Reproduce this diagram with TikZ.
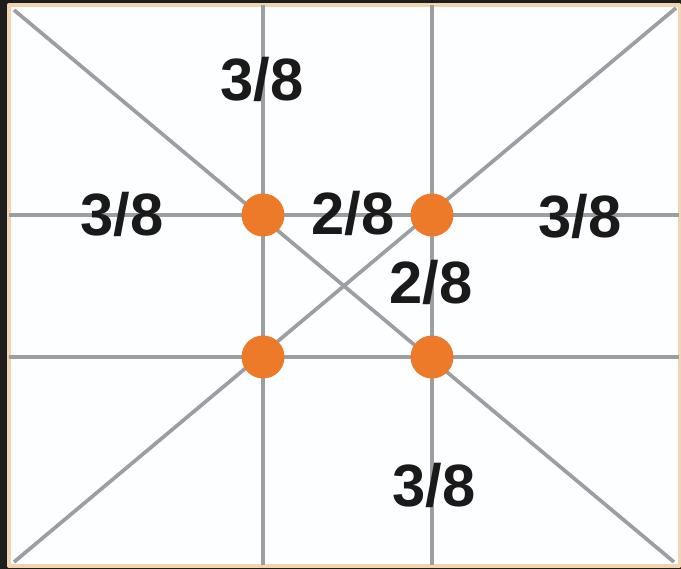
\documentclass[tikz,border=0pt]{standalone}
\usepackage{fontspec}
\setmainfont{Liberation Sans}
\usetikzlibrary{positioning}
\definecolor{fg}{RGB}{26,26,26}
\definecolor{mu}{RGB}{155,158,162}
\definecolor{acc}{RGB}{236,122,40}
\definecolor{rim}{RGB}{243,212,176}
\definecolor{bg}{RGB}{253,254,255}
\definecolor{dark}{RGB}{30,30,30}
\tikzset{
  every picture/.style={line cap=butt, line join=round},
  % Linien
  guide/.style={mu, line width=2.1pt},
  % Punkte
  spot/.style={circle, fill=acc, inner sep=0pt, minimum size=0.86cm},
  % Beschriftung
  frac/.style={fg, font=\fontsize{34}{36}\selectfont\bfseries, inner sep=0pt},
}

\begin{document}
\begin{tikzpicture}[x=0.02cm, y=-0.02cm]
  \useasboundingbox (0,0) rectangle (681,569);
  \fill[dark] (0,0) rectangle (681,569);
  % Bildfläche
  \draw[rim, fill=bg, line width=2pt] (8.8,4.8) rectangle (679.5,566);
  \coordinate (tl) at (14,10);
  \coordinate (br) at (674,562);
  \coordinate (bl) at (14,562);
  \coordinate (tr) at (676,8);
  % Drittelteilung 3/8 - 2/8 - 3/8
  \draw[guide] (263,5) -- (263,565);
  \draw[guide] (432,5) -- (432,565);
  \draw[guide] (9,215) -- (679,215);
  \draw[guide] (9,357) -- (679,357);
  \draw[guide] (tl) -- (br);
  \draw[guide] (bl) -- (tr);
  % Schnittpunkte
  \node[spot] (p1) at (263,215) {};
  \node[spot] (p2) at (432,215) {};
  \node[spot] (p3) at (263,357) {};
  \node[spot] (p4) at (432,357) {};
  \node[frac] (top) at (262,79) {3/8};
  \node[frac] (left) at (122,214) {3/8};
  \node[frac] (mid) at (353,213) {2/8};
  \node[frac] (right) at (580,216) {3/8};
  \node[frac] (inner) at (431,282) {2/8};
  \node[frac] (bottom) at (434,485) {3/8};
\end{tikzpicture}
\end{document}
